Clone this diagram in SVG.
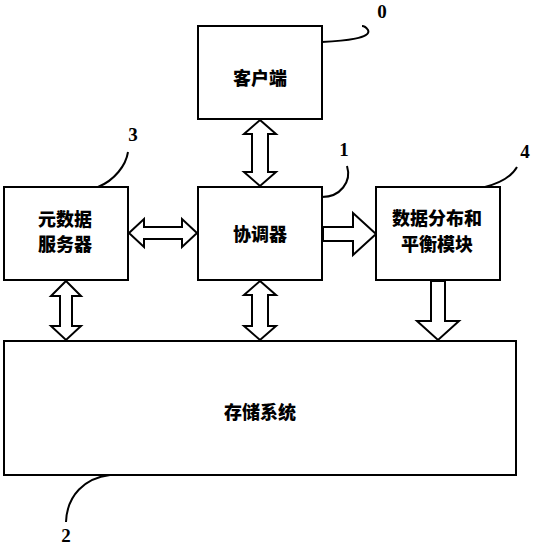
<svg xmlns="http://www.w3.org/2000/svg" width="536" height="549" viewBox="0 0 536 549">
<style>
.box{fill:#fff;stroke:#000;stroke-width:2}
.arr{fill:#fff;stroke:#000;stroke-width:2;stroke-linejoin:miter}
.lead{fill:none;stroke:#000;stroke-width:2}
.t{font-family:"Noto Sans CJK SC","Noto Sans CJK JP",sans-serif;font-weight:900;font-size:18px;text-anchor:middle;fill:#000}
.n{font-family:"Liberation Serif",serif;font-weight:bold;font-size:19px;text-anchor:middle;fill:#000}
</style>
<rect width="536" height="549" fill="#fff"/>
<g id="connectors">
<polygon class="arr" points="260,120 276,134 268,134 268,172 276,172 260,186 244,172 252,172 252,134 244,134"/>
<polygon class="arr" points="260,281 276,295 268,295 268,326 276,326 260,340 244,326 252,326 252,295 244,295"/>
<polygon class="arr" points="66,281 81,296 72,296 72,326 81,326 66,340 51,326 60,326 60,296 51,296"/>
<polygon class="arr" points="129,233 144,219 144,227 182,227 182,219 197,233 182,247 182,239 144,239 144,247"/>
<polygon class="arr" points="323,227 353,227 353,213 376,234 353,255 353,241 323,241"/>
<polygon class="arr" points="431,281 445,281 445,321 459,321 438,340 417,321 431,321"/>
</g>
<g id="leaders">
<path class="lead" d="M322,42 C345,41 372,38 368,30 C366,27 364,26 362,26"/>
<path class="lead" d="M98,187 C115,180 126,165 128,152"/>
<path class="lead" d="M322,197 C340,197 352,182 347,166"/>
<path class="lead" d="M485,187 C500,183 512,176 517,167"/>
<path class="lead" d="M110,475 C85,478 67,495 66,522"/>
</g>
<g id="client">
<rect class="box" x="198" y="26" width="124" height="93"/>
<text class="t" x="260" y="85">客户端</text>
</g>
<g id="coordinator">
<rect class="box" x="198" y="187" width="124" height="93"/>
<text class="t" x="260" y="241">协调器</text>
</g>
<g id="metadata">
<rect class="box" x="4" y="187" width="124" height="93"/>
<text class="t" x="65" y="226" font-size="17">元数据</text>
<text class="t" x="65" y="251" font-size="17">服务器</text>
</g>
<g id="balance">
<rect class="box" x="376" y="187" width="124" height="93"/>
<text class="t" x="437" y="225" font-size="17">数据分布和</text>
<text class="t" x="437" y="251" font-size="17">平衡模块</text>
</g>
<g id="storage">
<rect class="box" x="4" y="341" width="512" height="134"/>
<text class="t" x="260" y="419">存储系统</text>
</g>
<g id="labels">
<text class="n" x="382" y="18">0</text>
<text class="n" x="344" y="156">1</text>
<text class="n" x="66" y="542">2</text>
<text class="n" x="133" y="141">3</text>
<text class="n" x="525" y="158">4</text>
</g>
</svg>
